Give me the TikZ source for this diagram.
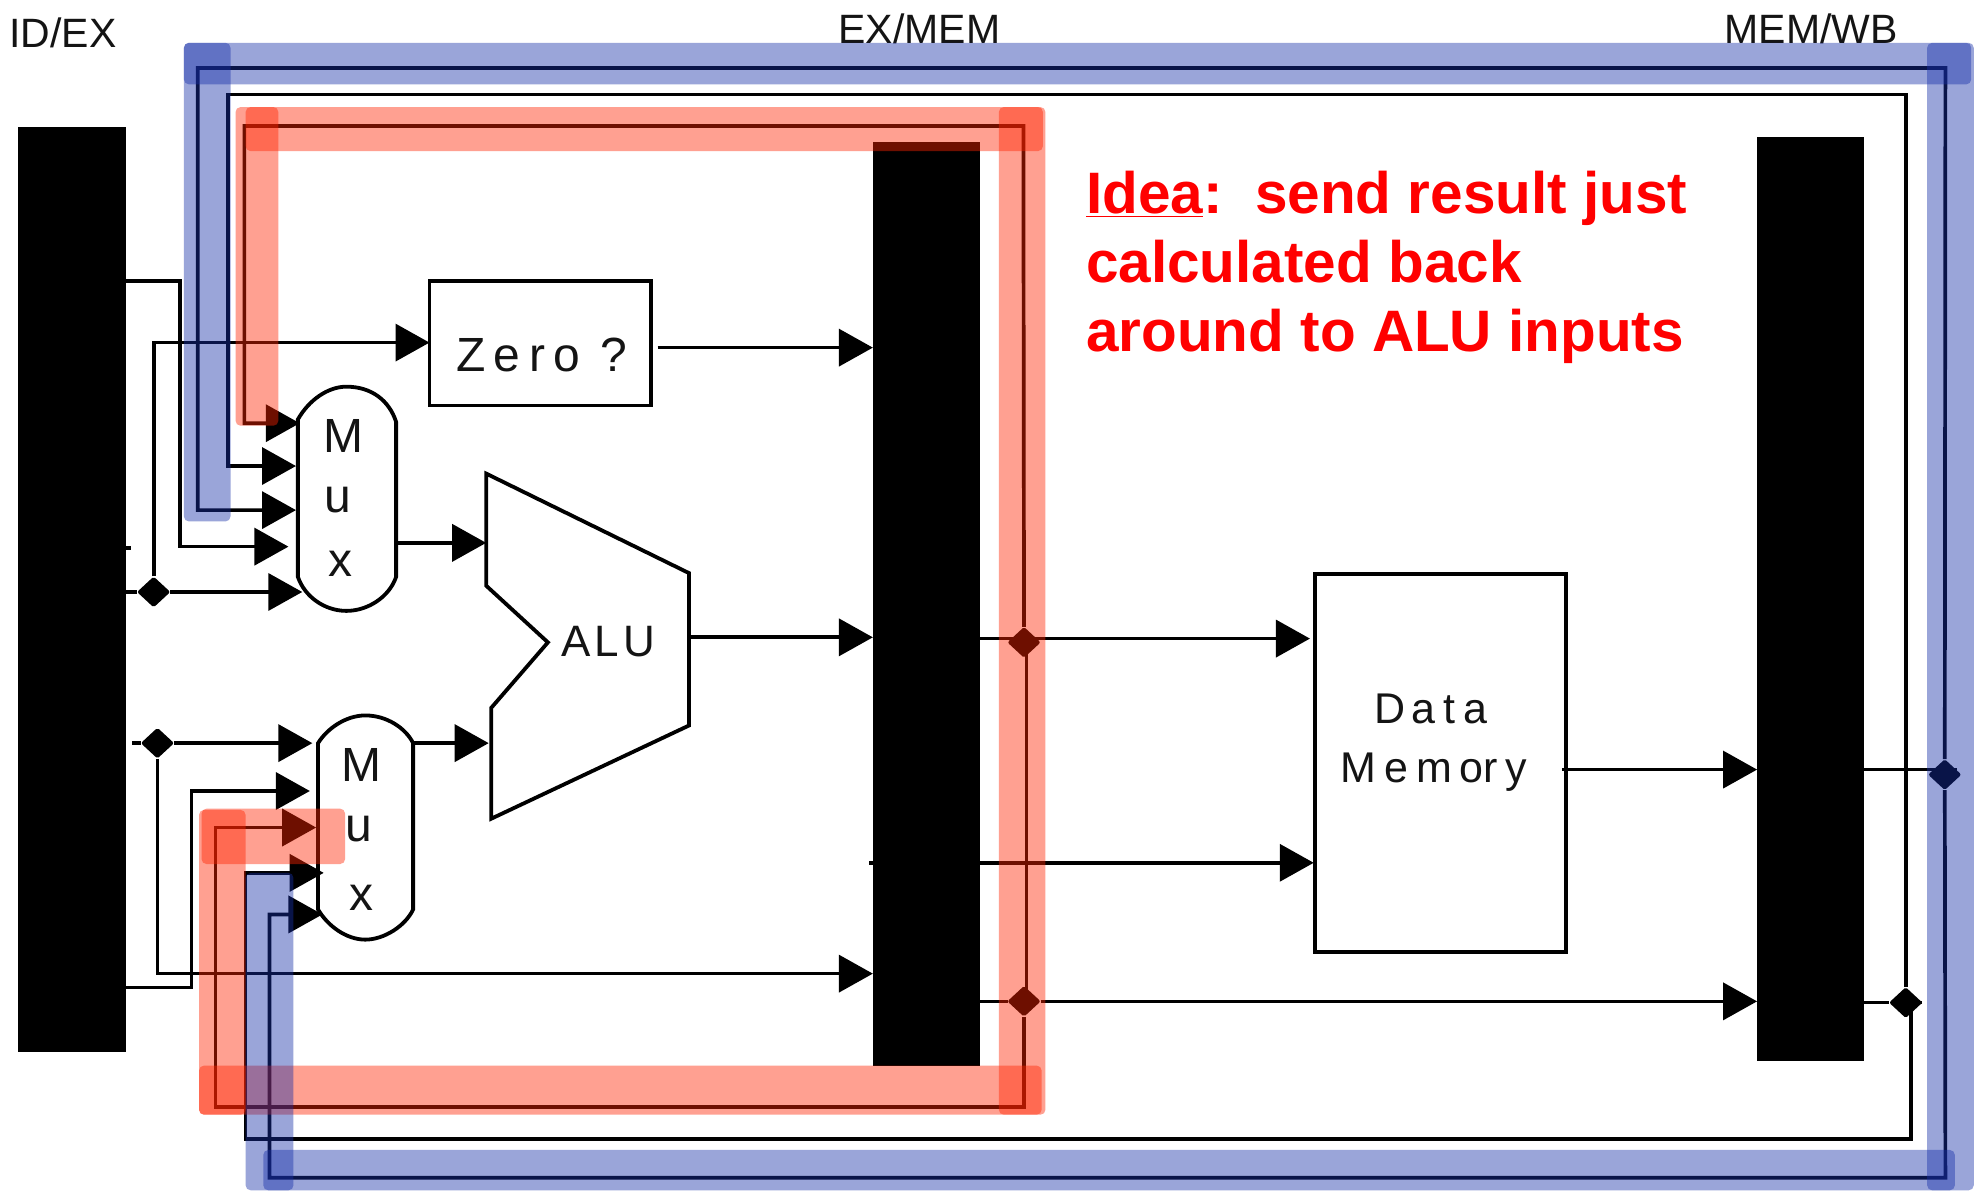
\documentclass[tikz,border=0pt]{standalone}
\usepackage{fontspec}
\setmainfont{Liberation Sans}
\newfontfamily\bitfont[LetterSpace=10]{Liberation Sans}
\newfontfamily\wideefont[LetterSpace=18]{Liberation Sans}
\usetikzlibrary{arrows.meta,shapes.geometric}
\def\U{0.63pt}
\definecolor{hlblue}{RGB}{23,47,169}
\definecolor{hlred}{RGB}{255,35,0}
\definecolor{bitgray}{gray}{0.08}
\tikzset{
  x=0.63pt,y=-0.63pt,
  wire/.style={draw=black,line width=1.85pt,miter limit=10},
  arr/.style={wire,-{Triangle[length=17pt,width=18.5pt]}},
  regbar/.style={fill=black,draw=none,inner sep=0pt},
  unitbox/.style={draw=black,line width=1.9pt,fill=white,inner sep=0pt},
  muxshape/.style={draw=black,line width=1.9pt,fill=white},
  junc/.style={diamond,fill=black,draw=black,line width=2pt,line join=round,inner sep=0pt,minimum width=14.5pt,minimum height=13.5pt},
  reglabel/.style={text=bitgray,font=\fontsize{20.5}{24}\selectfont,inner sep=0pt},
  muxlabel/.style={text=bitgray,font=\fontsize{24}{28}\bitfont,inner sep=0pt},
  unitlabel/.style={text=bitgray,font=\fontsize{21.5}{26}\wideefont,inner sep=0pt},
  idea/.style={text=red,font=\fontsize{29.25}{34.65}\bfseries\selectfont,inner sep=0pt,align=left,anchor=north west},
  hb/.style={fill=hlblue,fill opacity=0.43,rounded corners=2.5pt},
  hr/.style={fill=hlred,fill opacity=0.43,rounded corners=2.5pt}
}
\begin{document}
\begin{tikzpicture}
\useasboundingbox (0,0) rectangle (1568,945.5);
\fill[white] (0,0) rectangle (1568,945.5);

% pipeline registers
\node[regbar,minimum width=86*\U,minimum height=734*\U] (idex) at (57,468) {};
\node[regbar,minimum width=85*\U,minimum height=733*\U] (exmem) at (735.5,479.5) {};
\node[regbar,minimum width=85*\U,minimum height=733*\U] (memwb) at (1437.5,475.5) {};
\node[reglabel] (lidex) at (50,26) {ID/EX};
\node[reglabel] (lexmem) at (730,23) {EX/MEM};
\node[reglabel] (lmemwb) at (1438,23) {MEM/WB};

% units
\node[unitbox,minimum width=176*\U,minimum height=99*\U] (zero) at (429,272.5) {};
\node[unitbox,minimum width=199*\U,minimum height=300*\U] (dmem) at (1143.5,606) {};
\node[muxlabel] (tzero) at (430,282) {\wideefont Zero\kern-1pt\ ?};
\node[unitlabel] (tdata) at (1136,563) {D\kern3pt ata};
\node[unitlabel] (tmem) at (1138,613) {\raisebox{0pt}{M\kern4.5pt em\kern3.5pt o}ry};

% ALU
\draw[muxshape,line join=miter] (386,376) -- (547,455) -- (547,576) -- (390,650) -- (390,562) -- (435,510) -- (386,465) -- cycle;
\node[muxlabel,font=\fontsize{22}{26}\bitfont] (talu) at (483,509) {ALU};

% multiplexers
\draw[muxshape] (236.5,333) .. controls (245,318) and (260,307) .. (275,307) .. controls (295,307) and (309,318) .. (314.5,335)
  -- (314.5,458) .. controls (309,474) and (292,485) .. (275,485) .. controls (258,485) and (242,474) .. (236.5,458) -- cycle;
\draw[muxshape] (252.5,590) .. controls (260,578) and (275,568) .. (290,568) .. controls (307,568) and (322,578) .. (328,590)
  -- (328,722) .. controls (322,735) and (305,746) .. (290,746) .. controls (275,746) and (260,735) .. (252.5,722) -- cycle;
\node[muxlabel] (ma) at (273,346) {M};
\node[muxlabel] (mb) at (268,397) {u};
\node[muxlabel] (mc) at (270,448) {x};
\node[muxlabel] (md) at (287,607) {M};
\node[muxlabel] (me) at (285,658) {u};
\node[muxlabel] (mf) at (287,713) {x};

% ports
\coordinate (a1) at (238,336);
\coordinate (a2) at (235,370);
\coordinate (a3) at (235,405);
\coordinate (a4) at (229,434);
\coordinate (a5) at (240,470);
\coordinate (b1) at (248,590);
\coordinate (b2) at (246,628);
\coordinate (b3) at (251,657);
\coordinate (b4) at (257,693);
\coordinate (b5) at (256,726);
\coordinate (m1o) at (315,431);
\coordinate (m2o) at (328,590);
\coordinate (alua) at (386,431);
\coordinate (alub) at (388,590);
\coordinate (aluo) at (547,506);
\coordinate (zin) at (341,272);
\coordinate (zout) at (522,276);
\coordinate (bzero) at (693,276);
\coordinate (balu) at (693,506);
\coordinate (bb) at (693,773);
\coordinate (dmin) at (1040,507);
\coordinate (dmwr) at (1043,685);
\coordinate (dmout) at (1240,611);
\coordinate (wbm) at (1395,611);
\coordinate (wbb) at (1395,795);
\coordinate (exdm) at (778,507);
\coordinate (wbfw) at (1480,611);
\coordinate (wbfwend) at (1554,611);

% junctions
\node[junc] (j1) at (122,470) {};
\node[junc] (j2) at (125,590) {};
\node[junc] (j3) at (813,510) {};
\node[junc] (j4) at (813,795) {};
\node[junc] (j5) at (1513,796) {};
\node[junc] (j6) at (1544,615) {};

% ID/EX outputs
\draw[arr] (100,223) -- (143,223) -- (143,434) -- (a4);
\draw[wire] (100,435) -- (104,435);
\draw[wire] (100,470) -- (j1);
\draw[arr] (j1) -- (a5);
\draw[arr] (j1) -- (122,272) -- (zin);
\draw[wire] (105,590) -- (j2);
\draw[arr] (j2) -- (b1);
\draw[arr] (j2) -- (125,773) -- (bb);
\draw[arr] (100,784) -- (152,784) -- (152,628) -- (b2);

% datapath
\draw[arr] (zout) -- (bzero);
\draw[arr] (m1o) -- (alua);
\draw[arr] (m2o) -- (alub);
\draw[arr] (aluo) -- (balu);
\draw[arr] (exdm) -- (dmin);
\draw[wire] (690,685) -- (693,685);
\draw[arr] (778,685) -- (dmwr);
\draw[arr] (dmout) -- (wbm);
\draw[wire] (778,795) -- (j4);
\draw[arr] (j4) -- (wbb);
\draw[wire] (wbfw) -- (wbfwend);
\draw[wire] (1480,796) -- (j5);
\draw[wire] (j5) -- (1524,796);
\draw[wire] (815,510) -- (815,795);

% forwarding paths
\draw[arr] (j3) -- (812.5,100) -- (194,100) -- (194,336) -- (a1);
\draw[arr] (j4) -- (813,879) -- (171,879) -- (171,657) -- (b3);
\draw[arr] (j6) -- (1544.5,54) -- (157,54) -- (157,405) -- (a3);
\draw[arr] (j6) -- (1544.5,935) -- (214,935) -- (214,726) -- (b5);
\draw[arr] (j5) -- (1513,75) -- (181,75) -- (181,370) -- (a2);
\draw[arr] (1517,796) -- (1517,904.5) -- (195,904.5) -- (195,693) -- (b4);

% text
\node[idea] (ideatext) at (862,135.5) {\underline{Idea}:\ \ send result just\\calculated back\\around to ALU inputs};

% highlights
\fill[hr] (187,85) rectangle (221,338);
\fill[hr] (195,85) rectangle (828,120);
\fill[hr] (793,85) rectangle (830,885);
\fill[hr] (158,846) rectangle (827,885);
\fill[hr] (158,643) rectangle (195,885);
\fill[hr] (160,642) rectangle (274,686);
\fill[hb] (146,34) rectangle (1565,67);
\fill[hb] (146,34) rectangle (183,414);
\fill[hb] (1530,34) rectangle (1567,945);
\fill[hb] (209,913) rectangle (1552,945);
\fill[hb] (195,693) rectangle (233,945);
\end{tikzpicture}
\end{document}
